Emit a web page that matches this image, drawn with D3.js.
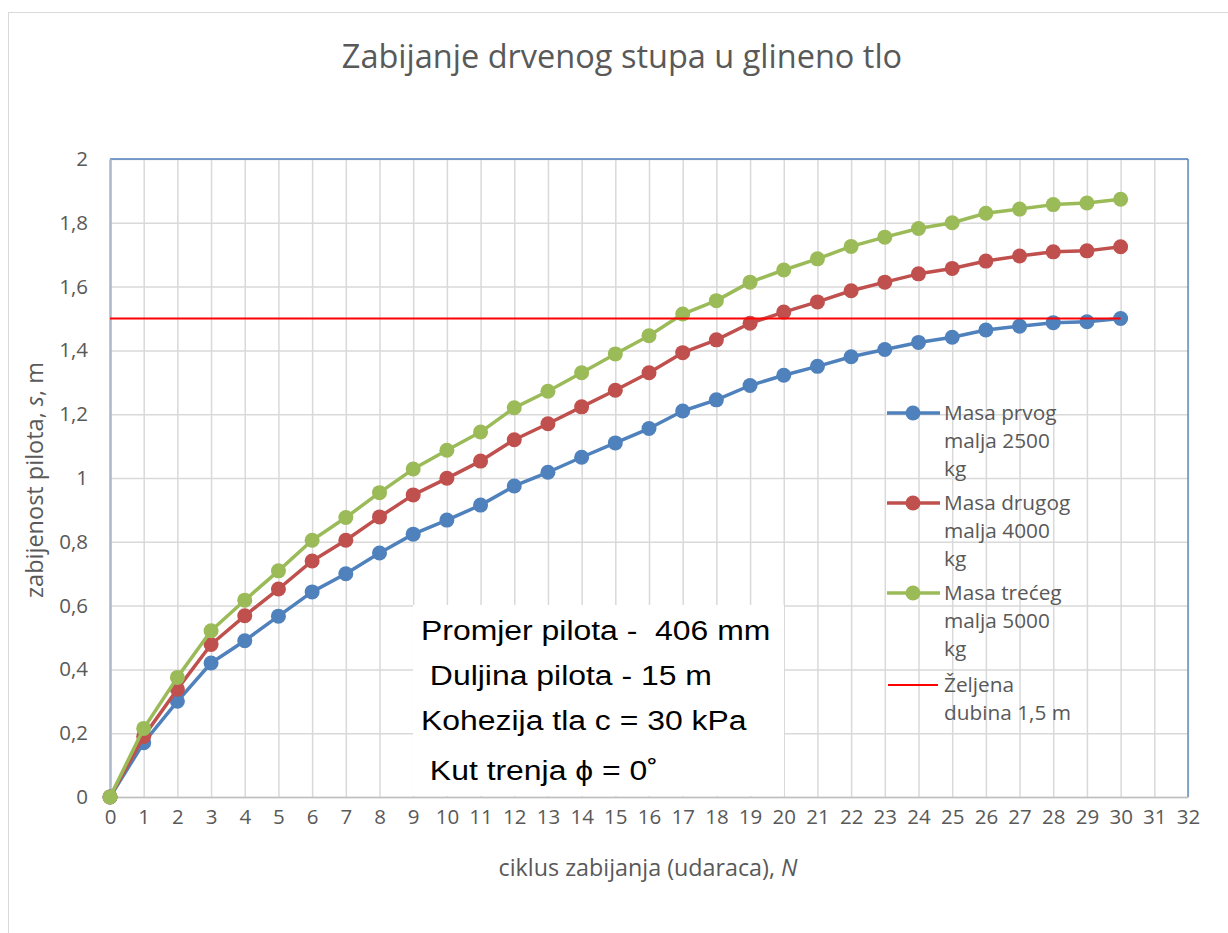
<!DOCTYPE html>
<html>
<head>
<meta charset="utf-8">
<script src="https://cdn.jsdelivr.net/npm/d3@7/dist/d3.min.js"></script>
<style>
  html, body { margin: 0; padding: 0; background: #fff; }
  svg { display: block; }
  .lbl { font-family: "Open Sans", Lato, sans-serif; fill: #595959; }
</style>
</head>
<body>
<svg id="chart" width="1228" height="933"></svg>
<script>
// Broj udaraca (ciklus zabijanja)
const cycles = [0,1,2,3,4,5,6,7,8,9,10,11,12,13,14,15,16,17,18,19,20,21,22,23,24,25,26,27,28,29,30];

// Zabijenost pilota s [m] za tri mase malja
const hammer2500 = [0,0.17,0.30,0.42,0.49,0.567,0.643,0.70,0.765,0.824,0.868,0.915,0.975,1.018,1.065,1.11,1.155,1.21,1.245,1.29,1.322,1.35,1.38,1.403,1.425,1.441,1.464,1.476,1.487,1.49,1.50];
const hammer4000 = [0,0.19,0.338,0.478,0.568,0.652,0.74,0.805,0.878,0.947,0.999,1.053,1.12,1.17,1.223,1.275,1.33,1.393,1.433,1.485,1.52,1.552,1.587,1.614,1.64,1.657,1.68,1.696,1.709,1.712,1.725];
const hammer5000 = [0,0.215,0.375,0.521,0.617,0.709,0.805,0.876,0.954,1.028,1.087,1.144,1.22,1.272,1.33,1.389,1.446,1.514,1.556,1.614,1.652,1.687,1.726,1.755,1.782,1.80,1.83,1.843,1.857,1.862,1.874];

// Željena dubina
const targetDepth = 1.5;
const targetRange = [0, 30];

// Oznake osi
const xTicks = [0,1,2,3,4,5,6,7,8,9,10,11,12,13,14,15,16,17,18,19,20,21,22,23,24,25,26,27,28,29,30,31,32];
const yTicks = [0,0.2,0.4,0.6,0.8,1,1.2,1.4,1.6,1.8,2];

const seriesNames = [
  ["Masa prvog", "malja 2500", "kg"],
  ["Masa drugog", "malja 4000", "kg"],
  ["Masa trećeg", "malja 5000", "kg"]
];
const targetName = ["Željena", "dubina 1,5 m"];
const seriesColors = ["#4f81bd", "#c0504d", "#9bbb59"];

const infoLines = ["Promjer pilota -  406 mm", " Duljina pilota - 15 m", "Kohezija tla c = 30 kPa", " Kut trenja \u03D5 = 0\u02DA"];

const svg = d3.select("#chart");
const W = 1228, H = 933;
const plot = { left: 110, right: 1188, top: 159, bottom: 797 };

// okvir grafikona
svg.append("rect")
  .attr("x", 8.5).attr("y", 12.5)
  .attr("width", W + 20).attr("height", H + 20)
  .attr("fill", "#fff").attr("stroke", "#d9d9d9").attr("stroke-width", 1);

const x = d3.scaleLinear().domain([0, 32]).range([plot.left, plot.right]);
const y = d3.scaleLinear().domain([0, 2]).range([plot.bottom, plot.top]);
const fmt = d => String(d).replace(".", ",");

// mreža
const gridX = svg.append("g")
  .attr("transform", `translate(0,${plot.bottom})`)
  .call(d3.axisBottom(x).tickValues(xTicks).tickSize(-(plot.bottom - plot.top)).tickFormat(""));
gridX.select(".domain").remove();
gridX.selectAll("line").attr("stroke", "#d9d9d9").attr("stroke-width", 1.5);

const gridY = svg.append("g")
  .attr("transform", `translate(${plot.left},0)`)
  .call(d3.axisLeft(y).tickValues(yTicks).tickSize(-(plot.right - plot.left)).tickFormat(""));
gridY.select(".domain").remove();
gridY.selectAll("line").attr("stroke", "#d9d9d9").attr("stroke-width", 1.5);

// rub područja crtanja
svg.append("line").attr("x1", plot.left).attr("x2", plot.right).attr("y1", plot.top).attr("y2", plot.top)
  .attr("stroke", "#4f81bd").attr("stroke-width", 1.3);
svg.append("line").attr("x1", plot.right).attr("x2", plot.right).attr("y1", plot.top).attr("y2", plot.bottom)
  .attr("stroke", "#4f81bd").attr("stroke-width", 1.3);

// osi
const tickFont = 20.5;
const xAxis = svg.append("g")
  .attr("transform", `translate(0,${plot.bottom})`)
  .call(d3.axisBottom(x).tickValues(xTicks).tickSize(0).tickPadding(12).tickFormat(d3.format("d")));
xAxis.select(".domain").attr("stroke", "#bfbfbf").attr("stroke-width", 1.5);
xAxis.selectAll("text").attr("class", "lbl").attr("font-size", tickFont);

const yAxis = svg.append("g")
  .attr("transform", `translate(${plot.left},0)`)
  .call(d3.axisLeft(y).tickValues(yTicks).tickSize(0).tickPadding(22).tickFormat(fmt));
yAxis.select(".domain").attr("stroke", "#adb9ca").attr("stroke-width", 2.5);
yAxis.selectAll("text").attr("class", "lbl").attr("font-size", tickFont);

// informacijski okvir
const box = svg.append("g");
box.append("rect")
  .attr("x", 413).attr("y", 605).attr("width", 371).attr("height", plot.bottom - 605 - 1)
  .attr("fill", "#fff");
box.selectAll("text").data(infoLines).join("text")
  .attr("transform", (d, i) => `translate(421,${[640, 685, 730, 780][i]}) scale(1.14,1)`)
  .attr("font-family", "'Liberation Sans', Arial, sans-serif")
  .attr("font-size", 28)
  .attr("fill", "#000")
  .attr("xml:space", "preserve")
  .style("white-space", "pre")
  .text(d => d);

// serije
const seriesData = [hammer2500, hammer4000, hammer5000];
const line = d3.line().x((d, i) => x(cycles[i])).y(d => y(d));
seriesData.forEach((vals, k) => {
  const g = svg.append("g");
  g.append("path").datum(vals).attr("d", line)
    .attr("fill", "none").attr("stroke", seriesColors[k]).attr("stroke-width", 3.5)
    .attr("stroke-linejoin", "round");
  g.selectAll("circle").data(vals).join("circle")
    .attr("cx", (d, i) => x(cycles[i])).attr("cy", d => y(d))
    .attr("r", 7.5).attr("fill", seriesColors[k]);
});

// željena dubina
svg.append("line")
  .attr("x1", x(targetRange[0])).attr("x2", x(targetRange[1]))
  .attr("y1", y(targetDepth)).attr("y2", y(targetDepth))
  .attr("stroke", "#ff0000").attr("stroke-width", 1.8);

// legenda
const legend = svg.append("g");
const legendY = [413, 503, 593, 685];
const legendFont = 20.8;
seriesNames.forEach((lines, k) => {
  const ly = legendY[k];
  legend.append("line").attr("x1", 887).attr("x2", 940).attr("y1", ly).attr("y2", ly)
    .attr("stroke", seriesColors[k]).attr("stroke-width", 3.5);
  legend.append("circle").attr("cx", 913).attr("cy", ly).attr("r", 7.5).attr("fill", seriesColors[k]);
  lines.forEach((t, j) => {
    legend.append("text").attr("class", "lbl").attr("x", 944).attr("y", ly + j * 28)
      .attr("dy", "0.36em").attr("font-size", legendFont).text(t);
  });
});
legend.append("line").attr("x1", 888).attr("x2", 938).attr("y1", legendY[3]).attr("y2", legendY[3])
  .attr("stroke", "#ff0000").attr("stroke-width", 1.8);
targetName.forEach((t, j) => {
  legend.append("text").attr("class", "lbl").attr("x", 944).attr("y", legendY[3] + j * 28)
    .attr("dy", "0.36em").attr("font-size", legendFont).text(t);
});

// naslov
svg.append("text").attr("class", "lbl")
  .attr("x", 622).attr("y", 68).attr("text-anchor", "middle")
  .attr("font-size", 32.5)
  .text("Zabijanje drvenog stupa u glineno tlo");

// nazivi osi
const xl = svg.append("text").attr("class", "lbl")
  .attr("x", 648).attr("y", 876).attr("text-anchor", "middle").attr("font-size", 23.3);
xl.append("tspan").text("ciklus zabijanja (udaraca), ");
xl.append("tspan").attr("font-style", "italic").text("N");

const yl = svg.append("text").attr("class", "lbl")
  .attr("transform", "translate(43,480) rotate(-90)")
  .attr("text-anchor", "middle").attr("font-size", 23.5);
yl.append("tspan").text("zabijenost pilota, ");
yl.append("tspan").attr("font-style", "italic").text("s");
yl.append("tspan").text(", m");
</script>
</body>
</html>
